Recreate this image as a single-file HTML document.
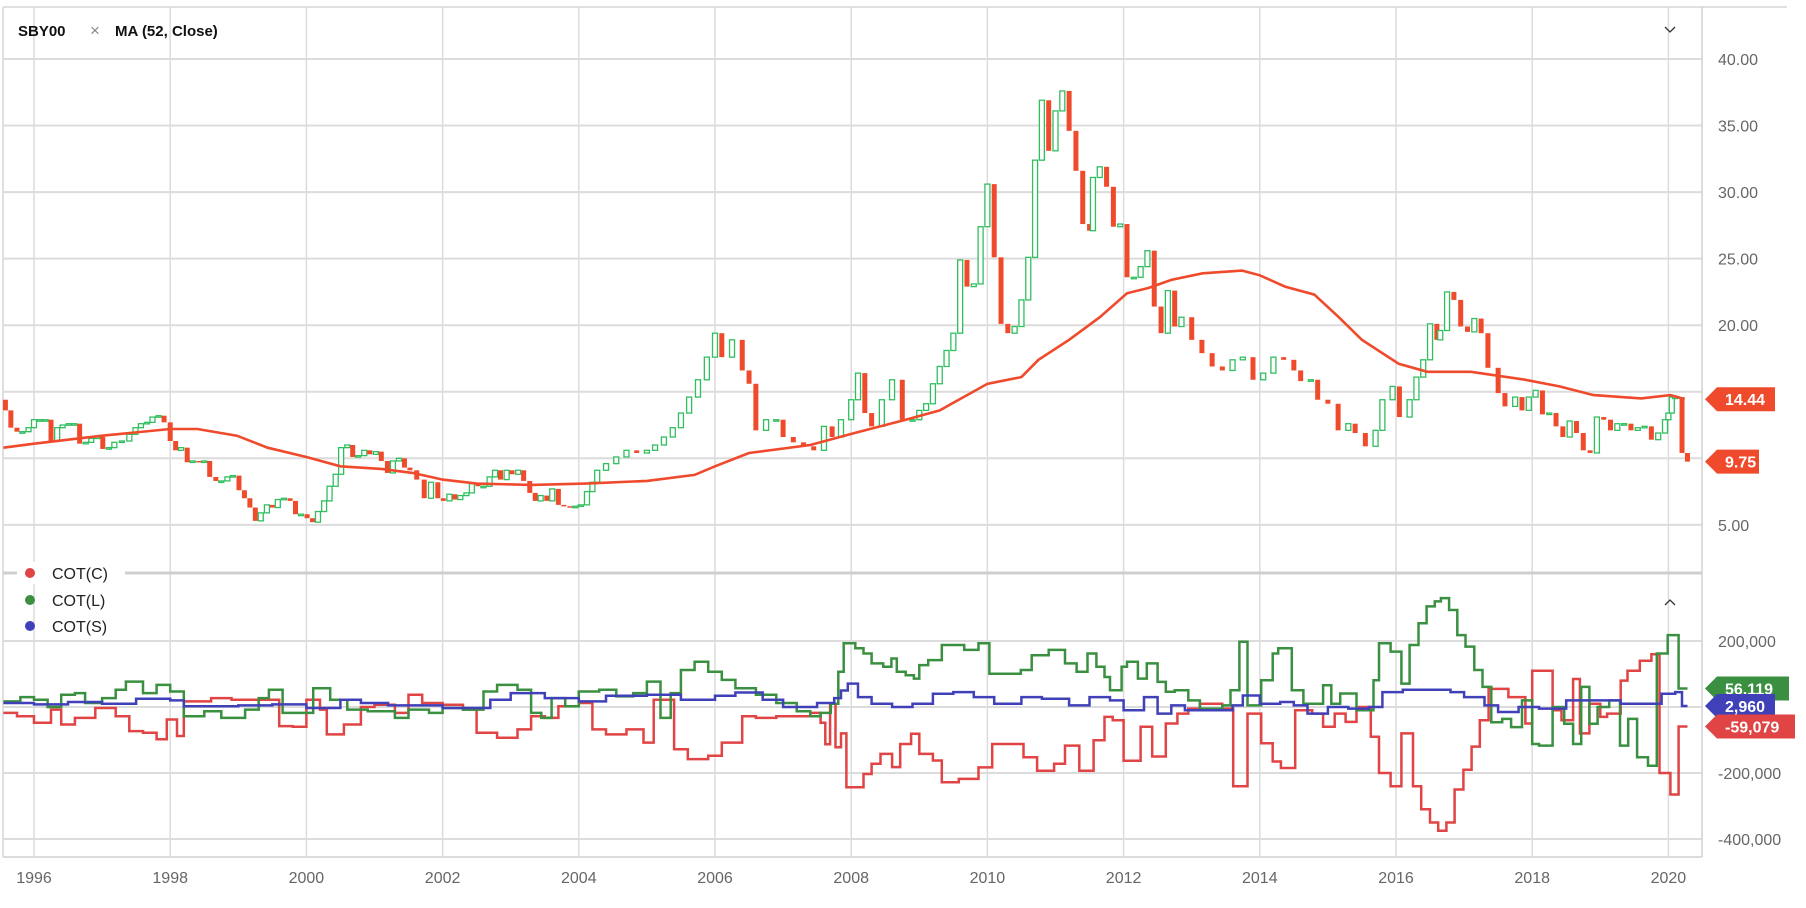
<!DOCTYPE html>
<html><head><meta charset="utf-8"><style>
html,body{margin:0;padding:0;background:#fff;}
svg{display:block;font-family:"Liberation Sans",Arial,sans-serif;}
</style></head><body>
<svg id="chart" width="1806" height="908" viewBox="0 0 1806 908" xmlns="http://www.w3.org/2000/svg">
<defs><clipPath id="plotclip"><rect x="3" y="7" width="1699" height="850"/></clipPath></defs>
<g id="grid"></g>
<g id="candles" clip-path="url(#plotclip)"></g>
<path id="ma" fill="none" stroke="#f04a2c" stroke-width="2.6" clip-path="url(#plotclip)"/>
<g id="cot" clip-path="url(#plotclip)"></g>
<line x1="3" y1="573" x2="1702" y2="573" stroke="#cfcfcf" stroke-width="3"/>
<rect x="17" y="562" width="108" height="22" fill="#fff"/>
<g>
 <g><circle cx="30" cy="573" r="5" fill="#e04444"/><text x="52" y="579" font-size="16" fill="#222">COT(C)</text></g>
 <g><circle cx="30" cy="600" r="5" fill="#3a9040"/><text x="52" y="606" font-size="16" fill="#222">COT(L)</text></g>
 <g><circle cx="30" cy="626" r="5" fill="#4040b8"/><text x="52" y="632" font-size="16" fill="#222">COT(S)</text></g>
</g>
<g>
 <text x="18" y="36" font-size="15" font-weight="bold" fill="#111">SBY00</text>
 <text x="90" y="36" font-size="17" fill="#888">×</text>
 <text x="115" y="36" font-size="15" font-weight="bold" fill="#111">MA (52, Close)</text>
</g>
<path d="M1665 27 L1670 32 L1675 27" fill="none" stroke="#333" stroke-width="1.3"/>
<path d="M1665 605 L1670 600 L1675 605" fill="none" stroke="#333" stroke-width="1.3"/>
<g id="axes"></g>
<g id="badges"></g>
</svg>
<script>
const priceTicks=[40,35,30,25,20,15,10,5];
const priceTickLabels=["40.00","35.00","30.00","25.00","20.00","","","5.00"];
const cotTicks=[200,0,-200,-400];
const cotTickLabels=["200,000","","-200,000","-400,000"];
const years=[1996,1998,2000,2002,2004,2006,2008,2010,2012,2014,2016,2018,2020];
const firstOpen=14.4;
const candleDates=[1995.58,1995.66,1995.75,1995.83,1995.92,1996.0,1996.08,1996.17,1996.25,1996.34,1996.42,1996.51,1996.59,1996.67,1996.76,1996.84,1996.93,1997.01,1997.1,1997.18,1997.29,1997.4,1997.49,1997.57,1997.66,1997.74,1997.83,1997.91,1998.0,1998.08,1998.16,1998.25,1998.33,1998.42,1998.5,1998.58,1998.67,1998.75,1998.84,1998.92,1999.01,1999.09,1999.17,1999.25,1999.33,1999.42,1999.5,1999.58,1999.67,1999.76,1999.84,1999.92,2000.01,2000.09,2000.17,2000.26,2000.34,2000.43,2000.51,2000.6,2000.68,2000.76,2000.85,2000.93,2001.02,2001.1,2001.19,2001.27,2001.36,2001.44,2001.52,2001.62,2001.73,2001.83,2001.93,2002.01,2002.1,2002.18,2002.26,2002.35,2002.43,2002.52,2002.6,2002.69,2002.77,2002.85,2002.94,2003.02,2003.11,2003.19,2003.28,2003.36,2003.44,2003.53,2003.61,2003.7,2003.78,2003.87,2003.95,2004.03,2004.12,2004.2,
2004.27,2004.4,2004.55,2004.7,2004.85,2005.0,2005.12,2005.25,2005.38,2005.5,2005.62,2005.75,2005.88,2006.0,2006.1,2006.25,2006.4,2006.5,2006.6,2006.75,2006.9,2007.0,2007.15,2007.3,2007.45,2007.6,2007.72,2007.85,2008.0,2008.1,2008.2,2008.3,2008.45,2008.6,2008.75,2008.9,2009.0,2009.1,2009.2,2009.3,2009.4,2009.5,2009.6,2009.7,2009.8,2009.9,2010.0,2010.1,2010.2,2010.3,2010.4,2010.5,2010.6,2010.7,2010.8,2010.9,2011.0,2011.1,2011.2,2011.3,2011.4,2011.5,2011.55,2011.65,2011.75,2011.85,2011.95,2012.05,2012.15,2012.25,2012.35,2012.45,2012.55,2012.65,2012.75,2012.85,
2013.0,2013.15,2013.3,2013.45,2013.6,2013.75,2013.9,2014.05,2014.2,2014.35,2014.5,2014.6,2014.75,2014.85,2015.0,2015.15,2015.3,2015.4,2015.55,2015.7,2015.8,2015.95,2016.05,2016.2,2016.3,2016.4,2016.5,2016.6,2016.65,2016.75,2016.85,2016.95,2017.05,2017.15,2017.25,2017.35,2017.5,2017.6,2017.75,2017.85,2017.95,2018.05,2018.15,2018.25,2018.35,2018.45,2018.55,2018.65,2018.75,2018.85,2018.95,2019.05,2019.15,2019.25,2019.35,2019.45,2019.55,2019.65,2019.75,2019.85,2019.95,2020.0,2020.05,2020.1,2020.2,2020.28];
const candleClose=[13.6,12.3,12.0,12.0,12.3,12.9,12.9,12.9,11.3,12.3,12.5,12.6,12.6,11.1,11.2,11.5,11.6,10.7,10.8,11.2,11.3,11.8,12.3,12.6,12.7,13.1,13.2,12.7,11.3,10.6,10.8,9.7,9.8,9.7,9.8,8.6,8.3,8.3,8.6,8.7,7.6,7.0,6.3,5.3,5.9,6.5,6.3,6.9,7.0,6.8,5.8,5.8,5.5,5.2,6.0,6.8,7.9,8.8,10.8,11.0,10.1,10.2,10.6,10.3,10.5,9.8,8.9,9.8,10.0,9.3,9.1,8.4,7.0,8.2,7.0,6.8,7.3,6.9,7.2,7.4,8.1,7.9,7.9,8.6,9.1,8.4,9.1,8.8,9.1,8.3,7.4,6.8,7.2,6.8,7.7,6.5,6.4,6.3,6.4,6.5,7.5,8.2,
9.1,9.6,10.1,10.6,10.4,10.6,11.0,11.6,12.3,13.4,14.6,15.9,17.6,19.4,17.6,18.9,16.6,15.6,12.1,12.9,12.9,11.6,11.2,10.9,10.6,12.4,11.6,12.9,14.4,16.4,13.4,12.4,14.4,15.9,12.9,12.9,13.6,14.1,15.6,16.9,18.1,19.4,24.9,22.9,23.1,27.4,30.6,25.1,20.1,19.4,19.9,21.9,25.1,32.4,36.9,33.1,36.1,37.6,34.6,31.6,27.6,27.1,31.1,31.9,30.4,27.4,27.6,23.6,23.6,24.4,25.6,21.4,19.4,22.6,19.9,20.6,
18.9,17.9,16.9,16.6,17.4,17.6,15.9,16.4,17.6,17.4,16.6,15.8,15.9,14.4,14.1,12.1,12.6,11.9,10.9,12.1,14.4,15.4,13.1,14.4,16.1,17.4,20.1,18.9,19.6,22.5,21.9,19.9,19.5,20.5,19.4,16.8,14.9,13.9,14.6,13.6,14.6,15.1,13.3,13.4,12.4,11.6,12.8,11.9,10.6,10.4,13.1,12.9,12.1,12.6,12.6,12.1,12.3,12.4,11.4,11.9,12.9,13.4,14.6,14.6,10.4,9.75];
const maDates=[1995.55,1996.0,1997.0,1998.0,1998.4,1998.98,1999.43,2000.0,2000.5,2001.1,2001.56,2002.0,2002.5,2003.3,2004.1,2005.0,2005.7,2006.0,2006.5,2007.4,2008.05,2008.8,2009.3,2010.0,2010.5,2010.75,2011.2,2011.65,2012.05,2012.37,2012.7,2013.16,2013.74,2014.0,2014.37,2014.8,2015.16,2015.5,2016.04,2016.46,2017.1,2017.9,2018.4,2018.9,2019.6,2020.03,2020.24];
const maValues=[10.8,11.1,11.7,12.2,12.2,11.7,10.8,10.1,9.4,9.2,8.9,8.4,8.1,8.0,8.1,8.3,8.75,9.4,10.4,11.0,11.9,12.9,13.6,15.6,16.1,17.4,18.9,20.6,22.4,22.8,23.4,23.9,24.1,23.75,22.9,22.3,20.6,18.9,17.1,16.5,16.5,15.9,15.4,14.75,14.5,14.75,14.45];
const cTimes=[1995.55,1995.75,1996.0,1996.25,1996.4,1996.6,1996.9,1997.2,1997.4,1997.6,1997.8,1997.95,1998.1,1998.2,1998.6,1998.9,1999.6,1999.8,2000.0,2000.2,2000.3,2000.55,2000.8,2001.0,2001.3,2001.5,2001.7,2002.0,2002.3,2002.5,2002.8,2003.1,2003.3,2003.5,2003.7,2004.0,2004.2,2004.4,2004.7,2004.95,2005.1,2005.4,2005.6,2005.9,2006.1,2006.4,2006.6,2006.9,2007.4,2007.55,2007.62,2007.69,2007.77,2007.85,2007.93,2008.18,2008.3,2008.43,2008.6,2008.72,2008.88,2009.0,2009.2,2009.33,2009.58,2009.87,2010.07,2010.24,2010.53,2010.73,2010.98,2011.14,2011.35,2011.56,2011.72,2011.84,2012.0,2012.25,2012.42,2012.62,2012.79,2012.95,2013.12,2013.45,2013.61,2013.82,2014.02,2014.19,2014.31,2014.52,2014.77,2014.93,2015.1,2015.26,2015.42,2015.63,2015.75,2015.92,2016.08,2016.25,2016.37,2016.5,2016.62,2016.74,2016.86,2016.99,2017.11,2017.23,2017.36,2017.65,2017.9,2018.0,2018.3,2018.43,2018.6,2018.7,2018.84,2019.0,2019.1,2019.3,2019.4,2019.58,2019.75,2019.87,2020.03,2020.15];
const cValues=[-18,-28,-48,-8,-53,-33,-3,-28,-73,-78,-98,-38,-88,17,27,22,-58,-60,22,-8,-83,-53,0,7,-18,37,12,7,-8,-78,-93,-68,-28,-33,2,12,-68,-83,-68,-108,22,-128,-158,-148,-108,-28,-33,-28,-18,-48,-113,10,-122,-80,-243,-203,-172,-142,-182,-112,-81,-142,-162,-228,-218,-183,-112,-112,-152,-193,-172,-117,-193,-101,-30,-40,-163,-60,-150,-50,-20,-5,10,-5,-240,-20,-110,-165,-185,-10,-20,-60,-20,-45,0,-90,-200,-240,-80,-240,-310,-350,-375,-350,-250,-190,-120,-40,55,30,-50,110,-10,-40,85,-80,10,-30,-20,80,110,140,160,-200,-265,-59];
const lTimes=[1995.55,1995.8,1996.0,1996.2,1996.4,1996.6,1996.75,1997.0,1997.2,1997.35,1997.6,1997.8,1998.0,1998.2,1998.5,1998.75,1999.1,1999.3,1999.45,1999.65,2000.1,2000.35,2000.6,2000.9,2001.3,2001.5,2001.8,2002.0,2002.3,2002.6,2002.8,2003.1,2003.3,2003.45,2003.6,2003.8,2004.0,2004.3,2004.55,2004.8,2005.0,2005.2,2005.35,2005.5,2005.7,2005.9,2006.1,2006.3,2006.6,2006.9,2007.2,2007.4,2007.55,2007.7,2007.81,2007.89,2008.06,2008.18,2008.3,2008.47,2008.59,2008.67,2008.8,2008.92,2009.0,2009.13,2009.33,2009.66,2009.87,2010.03,2010.49,2010.65,2010.9,2011.14,2011.31,2011.47,2011.6,2011.72,2011.8,2011.97,2012.05,2012.21,2012.34,2012.5,2012.62,2012.75,2012.95,2013.12,2013.45,2013.57,2013.7,2013.82,2014.02,2014.19,2014.27,2014.47,2014.64,2014.93,2015.05,2015.18,2015.42,2015.67,2015.75,2015.92,2016.08,2016.2,2016.33,2016.45,2016.57,2016.66,2016.78,2016.9,2017.02,2017.15,2017.27,2017.4,2017.56,2017.69,2017.85,2018.0,2018.1,2018.3,2018.47,2018.6,2018.72,2018.84,2018.96,2019.13,2019.29,2019.41,2019.54,2019.7,2019.83,2019.99,2020.15];
const lValues=[17,30,22,0,37,42,12,27,52,77,42,67,47,-28,-13,-33,-8,27,52,-18,57,22,-8,-13,-33,-8,-18,-3,-8,47,67,52,-18,-33,27,2,47,52,32,42,77,-33,42,112,137,107,82,57,37,12,-13,-28,-18,10,107,193,178,162,132,122,147,107,96,86,127,142,188,173,193,101,112,157,173,132,107,162,122,91,51,122,137,86,132,76,46,51,20,-5,5,51,198,5,81,162,178,51,10,66,10,41,-10,81,193,168,71,188,254,305,320,330,294,218,183,112,61,-46,-36,-61,20,-112,-117,0,-51,-112,61,-51,0,20,-117,-36,-152,-178,162,218,56];
const sTimes=[1995.55,1996.0,1996.5,1997.0,1997.5,1998.0,1998.2,1999.0,1999.5,2000.0,2000.5,2000.8,2001.2,2002.0,2002.7,2003.0,2003.5,2004.0,2004.4,2005.0,2005.5,2006.0,2006.3,2006.7,2007.0,2007.5,2007.75,2007.85,2007.95,2008.1,2008.3,2008.6,2008.9,2009.2,2009.5,2009.8,2010.1,2010.5,2010.8,2011.2,2011.5,2011.8,2012.0,2012.3,2012.5,2012.7,2012.9,2013.6,2013.75,2014.0,2014.3,2014.5,2014.7,2015.0,2015.3,2015.6,2015.8,2016.1,2016.5,2016.8,2017.0,2017.3,2017.5,2017.8,2018.1,2018.5,2018.9,2019.3,2019.7,2019.9,2020.1,2020.2];
const sValues=[12,8,15,10,25,20,2,5,8,-3,22,12,5,-3,22,42,27,17,34,37,22,34,44,22,0,12,27,50,71,30,10,0,10,40,45,30,10,30,25,5,30,20,-10,30,-20,5,-10,5,35,10,15,5,-20,0,-5,0,45,52,52,45,30,5,-15,0,-5,20,20,10,10,40,45,3];
const endYear=2020.28;

const NS="http://www.w3.org/2000/svg";
const fx=y=>34+(y-1996)*68.1;
const py=p=>59+(40-p)*13.31;
const cy=v=>707-v*0.33;
function mk(tag,attrs,parent){const e=document.createElementNS(NS,tag);for(const k in attrs)e.setAttribute(k,attrs[k]);parent.appendChild(e);return e;}

const grid=document.getElementById('grid');
const axes=document.getElementById('axes');
mk('line',{x1:3,y1:7,x2:1787,y2:7,stroke:'#d6d6d6','stroke-width':1.5},grid);
mk('line',{x1:3,y1:7,x2:3,y2:857,stroke:'#d6d6d6','stroke-width':1.5},grid);
priceTicks.forEach((p,i)=>{
  const l=mk('line',{x1:3,y1:py(p),x2:1702,y2:py(p),stroke:'#dcdcdc','stroke-width':2},grid);
  
  
  if(priceTickLabels[i]){const t=mk('text',{x:1718,y:py(p)+6,'font-size':16,fill:'#666'},axes);t.textContent=priceTickLabels[i];
  
  }
});
cotTicks.forEach((v,i)=>{
  const l=mk('line',{x1:3,y1:cy(v),x2:1702,y2:cy(v),stroke:'#dcdcdc','stroke-width':2},grid);
  
  
  if(cotTickLabels[i]){const t=mk('text',{x:1718,y:cy(v)+6,'font-size':16,fill:'#666'},axes);t.textContent=cotTickLabels[i];
  
  }
});
years.forEach(y=>{
  const l=mk('line',{x1:fx(y),y1:7,x2:fx(y),y2:857,stroke:'#dcdcdc','stroke-width':1.5},grid);
  
  
  const t=mk('text',{x:fx(y),y:883,'font-size':16,fill:'#666','text-anchor':'middle'},axes);t.textContent=y;
  
  
});
mk('line',{x1:1702,y1:7,x2:1702,y2:857,stroke:'#d0d0d0','stroke-width':1.5},axes);
mk('line',{x1:3,y1:857,x2:1702,y2:857,stroke:'#d0d0d0','stroke-width':1.5},axes);

const cg=document.getElementById('candles');
candleDates.forEach((d,i)=>{
  const c=candleClose[i];const o=i===0?firstOpen:candleClose[i-1];
  const up=c>=o;const top=py(Math.max(o,c));let h=Math.abs(py(o)-py(c));if(h<1.5)h=1.5;
  const r=mk('rect',{x:fx(d)-2.5,y:top,width:5,height:h},cg);
  if(up){r.setAttribute('fill','#fff');r.setAttribute('stroke','#2fbf5f');r.setAttribute('stroke-width','1.3');}
  else{r.setAttribute('fill','#f04a2c');}
  
  
});
let md='';maDates.forEach((d,i)=>{md+=(i?'L':'M')+fx(d).toFixed(1)+' '+py(maValues[i]).toFixed(1)+' ';});
document.getElementById('ma').setAttribute('d',md);

const cot=document.getElementById('cot');
function stepPath(ts,vs){let d='';for(let i=0;i<ts.length;i++){const x=fx(ts[i]).toFixed(1),y=cy(vs[i]).toFixed(1);d+=(i?'H'+x+'V'+y:'M'+x+' '+y);}return d+'H'+fx(endYear).toFixed(1);}
const pc=mk('path',{d:stepPath(cTimes,cValues),fill:'none',stroke:'#e04444','stroke-width':2.5},cot);


const pl=mk('path',{d:stepPath(lTimes,lValues),fill:'none',stroke:'#3a9040','stroke-width':2.5},cot);


const ps=mk('path',{d:stepPath(sTimes,sValues),fill:'none',stroke:'#4040b8','stroke-width':2.5},cot);



const bg=document.getElementById('badges');
function badge(y,w,color,label,name){
  const g=mk('g',{},bg);
  
  
  mk('path',{d:`M1705 ${y} L1717 ${y-12} L${1717+w} ${y-12} L${1717+w} ${y+12} L1717 ${y+12} Z`,fill:color},g);
  const t=mk('text',{x:1725,y:y+6,'font-size':16,'font-weight':'bold',fill:'#fff'},g);t.textContent=label;
}
badge(py(14.44),58,'#f04a2c','14.44','ma-value-badge');
badge(py(9.75),42,'#f04a2c','9.75','last-price-badge');
badge(cy(56),72,'#3a9040','56,119','cot-l-badge');
badge(cy(2.96),58,'#4040b8','2,960','cot-s-badge');
badge(cy(-59),78,'#e04444','-59,079','cot-c-badge');
</script>
</body></html>
